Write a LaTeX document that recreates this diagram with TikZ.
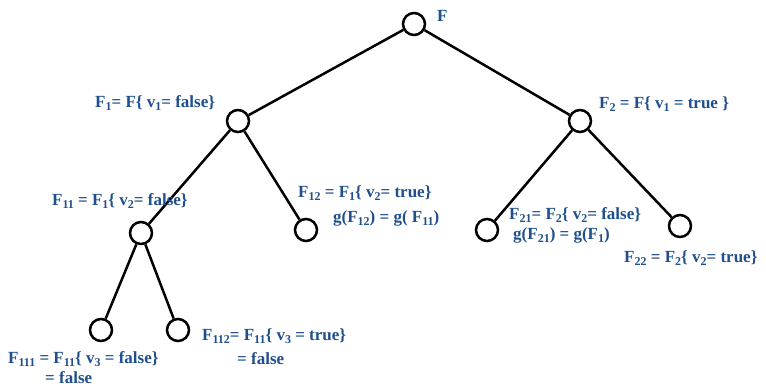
\documentclass[tikz,border=0pt]{standalone}
\usepackage{fontspec}
\setmainfont{Liberation Serif}
\usetikzlibrary{positioning}
\definecolor{labelblue}{RGB}{31,79,140}
\newcommand{\sbs}[1]{\raisebox{-0.4ex}{\fontsize{12}{12}\selectfont #1}}

\begin{document}
\begin{tikzpicture}[x=1pt,y=-1pt,
  leaf/.style={circle, draw, line width=2.5pt, minimum size=22pt, inner sep=0pt},
  branch/.style={line width=2.5pt},
  lbl/.style={text=labelblue, font=\bfseries\fontsize{17}{18}\selectfont, inner sep=0pt, anchor=base west}]

\useasboundingbox (0,0) rectangle (766,388);

% Tree nodes
\node[leaf] (f) at (414,24) {};
\node[leaf] (f1) at (238,121) {};
\node[leaf] (f2) at (580,121) {};
\node[leaf] (f11) at (141,233) {};
\node[leaf] (f12) at (306,230) {};
\node[leaf] (f21) at (487,230) {};
\node[leaf] (f22) at (680,226) {};
\node[leaf] (f111) at (101,330) {};
\node[leaf] (f112) at (178,330) {};

% Branches
\foreach \a/\b in {f/f1, f/f2, f1/f11, f1/f12, f2/f21, f2/f22, f11/f111, f11/f112} {
    \draw[branch] (\a) -- (\b);
}

% Labels
\node[lbl] (lf) at (437,21) {F};
\node[lbl] (lf1) at (95,107) {F\sbs{1}= F\{ v\sbs{1}= false\}};
\node[lbl] (lf2) at (599,108) {F\sbs{2} = F\{ v\sbs{1} = true \}};
\node[lbl] (lf11) at (52,205) {F\sbs{11} = F\sbs{1}\{ v\sbs{2}= false\}};
\node[lbl] (lf12) at (298,197) {F\sbs{12} = F\sbs{1}\{ v\sbs{2}= true\}};
\node[lbl] (gf12) at (333,222) {g(F\sbs{12}) = g( F\sbs{11})};
\node[lbl] (lf21) at (509,219) {F\sbs{21}= F\sbs{2}\{ v\sbs{2}= false\}};
\node[lbl] (gf21) at (513,239) {g(F\sbs{21}) = g(F\sbs{1})};
\node[lbl] (lf22) at (624,262) {F\sbs{22} = F\sbs{2}\{ v\sbs{2}= true\}};
\node[lbl] (lf111) at (8,363) {F\sbs{111} = F\sbs{11}\{ v\sbs{3} = false\}};
\node[lbl] (vf111) at (45,383) {= false};
\node[lbl] (lf112) at (202,340) {F\sbs{112}= F\sbs{11}\{ v\sbs{3} = true\}};
\node[lbl] (vf112) at (237,364) {= false};

\end{tikzpicture}
\end{document}
